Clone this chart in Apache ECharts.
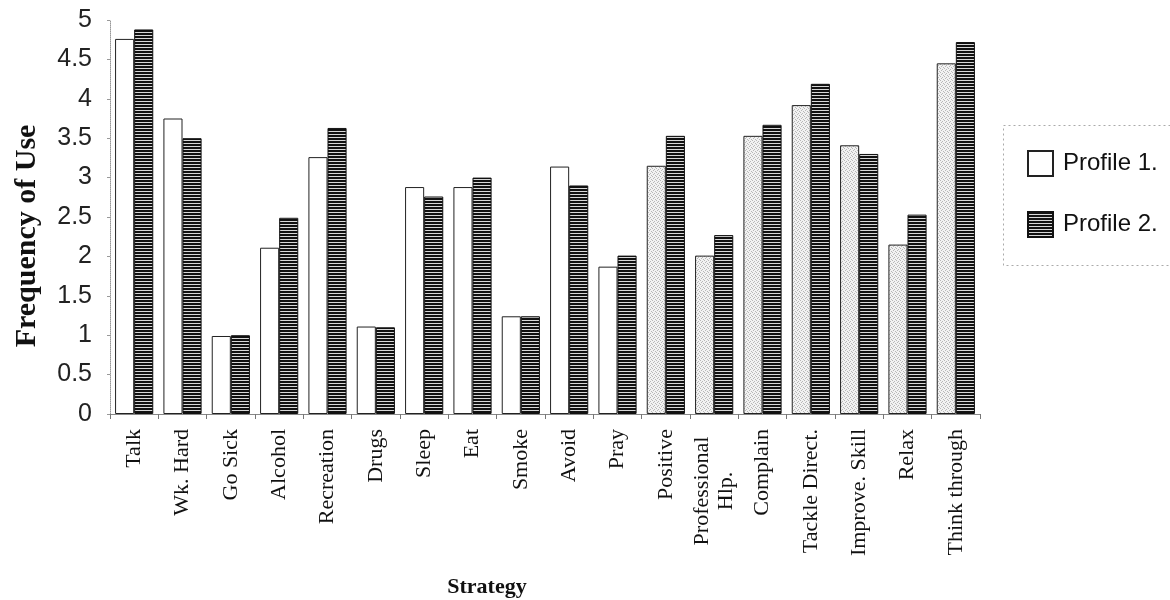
<!DOCTYPE html>
<html>
<head>
<meta charset="utf-8">
<script src="https://cdn.jsdelivr.net/npm/echarts@6/dist/echarts.min.js"></script>
<style>
  html, body { margin: 0; padding: 0; background: #fff; }
  #chart { width: 1170px; height: 600px; }
</style>
</head>
<body>
<div id="chart"></div>
<script>
// Coping strategies and how often each profile uses them
const strategies = [
  'Talk', 'Wk. Hard', 'Go Sick', 'Alcohol', 'Recreation', 'Drugs', 'Sleep', 'Eat',
  'Smoke', 'Avoid', 'Pray', 'Positive', 'Professional\nHlp.', 'Complain',
  'Tackle Direct.', 'Improve. Skill', 'Relax', 'Think through'
];
const profile1 = [4.76, 3.75, 0.99, 2.11, 3.26, 1.11, 2.88, 2.88, 1.24, 3.14, 1.87, 3.15, 2.01, 3.53, 3.92, 3.41, 2.15, 4.45];
const profile2 = [4.88, 3.50, 1.00, 2.49, 3.63, 1.10, 2.76, 3.00, 1.24, 2.90, 2.01, 3.53, 2.27, 3.67, 4.19, 3.30, 2.53, 4.72];
const seriesNames = ['Profile 1.', 'Profile 2.'];
const yTicks = ['0', '0.5', '1', '1.5', '2', '2.5', '3', '3.5', '4', '4.5', '5'];
// strategies whose Profile 1 bar carries a stippled grey tone
const stippled = ['Positive', 'Professional\nHlp.', 'Complain', 'Tackle Direct.', 'Improve. Skill', 'Relax', 'Think through'];

// horizontal hatch for Profile 2
function hatchPattern() {
  const c = document.createElement('canvas');
  c.width = 4; c.height = 3;
  const g = c.getContext('2d');
  g.fillStyle = '#d8d8d8'; g.fillRect(0, 0, 4, 3);
  g.fillStyle = '#111'; g.fillRect(0, 0, 4, 2);
  return c;
}
// fine stipple for the grey Profile 1 bars
function stipplePattern() {
  const c = document.createElement('canvas');
  c.width = 4; c.height = 4;
  const g = c.getContext('2d');
  g.fillStyle = '#f2f2f2'; g.fillRect(0, 0, 4, 4);
  g.fillStyle = '#b8b8b8';
  g.fillRect(0, 0, 1, 1); g.fillRect(2, 1, 1, 1); g.fillRect(1, 2, 1, 1); g.fillRect(3, 3, 1, 1);
  return c;
}
const hatch = { image: hatchPattern(), repeat: 'repeat' };
const stipple = { image: stipplePattern(), repeat: 'repeat' };

const p1Data = profile1.map((v, i) => stippled.includes(strategies[i])
  ? { value: v, itemStyle: { color: stipple } }
  : v);

const chart = echarts.init(document.getElementById('chart'), null, { renderer: 'canvas' });
chart.setOption({
  backgroundColor: '#fff',
  animation: false,
  title: {
    text: 'Strategy',
    left: 482,
    top: 571,
    textAlign: 'center',
    textStyle: { fontFamily: 'Liberation Serif', fontWeight: 'bold', fontSize: 22, color: '#111' }
  },
  grid: { left: 110, right: 190, top: 20, bottom: 186, outerBoundsMode: 'none', containLabel: false },
  legend: {
    orient: 'vertical',
    left: 1022,
    top: 145,
    itemWidth: 25,
    itemHeight: 25,
    itemGap: 34,
    icon: 'rect',
    data: seriesNames,
    textStyle: { fontFamily: 'Liberation Sans', fontSize: 24, color: '#111', padding: [0, 0, 0, 5] }
  },
  graphic: [{
    type: 'rect',
    silent: true,
    shape: { x: 1003.5, y: 125.5, width: 220, height: 140 },
    style: { fill: 'none', stroke: '#aaa', lineWidth: 1, lineDash: [2, 3] }
  }],
  xAxis: {
    type: 'category',
    data: strategies,
    axisLine: { lineStyle: { color: '#888', width: 1 } },
    axisTick: { show: true, length: 5, lineStyle: { color: '#777' } },
    axisLabel: {
      rotate: 90,
      margin: 15,
      interval: 0,
      fontFamily: 'Liberation Serif',
      fontSize: 22,
      color: '#111',
      lineHeight: 24,
      formatter: v => v.includes('\n') ? v.split('\n').map(s => '{c|' + s + '}').join('\n') : v,
      rich: { c: { width: 124, align: 'center', fontFamily: 'Liberation Serif', fontSize: 22, color: '#111', lineHeight: 24 } }
    }
  },
  yAxis: {
    type: 'value',
    min: 0,
    max: 5,
    interval: 0.5,
    name: 'Frequency of Use',
    nameLocation: 'middle',
    nameGap: 68,
    nameTextStyle: { fontFamily: 'Liberation Serif', fontWeight: 'bold', fontSize: 30, color: '#111', padding: [0, 38, 0, 0] },
    axisLine: { show: true, lineStyle: { color: '#999', type: 'dotted', width: 1 } },
    axisTick: { show: true, length: 3, lineStyle: { color: '#999' } },
    splitLine: { show: false },
    axisLabel: {
      margin: 18,
      fontFamily: 'Liberation Sans',
      fontSize: 25,
      color: '#222',
      formatter: v => yTicks[Math.round(v * 2)]
    }
  },
  series: [
    {
      name: seriesNames[0],
      type: 'bar',
      data: p1Data,
      barGap: '0%',
      barCategoryGap: '21%',
      itemStyle: { color: '#fff', borderColor: '#222', borderWidth: 1 }
    },
    {
      name: seriesNames[1],
      type: 'bar',
      data: profile2,
      itemStyle: { color: hatch, borderColor: '#111', borderWidth: 1 }
    }
  ]
});
</script>
</body>
</html>
